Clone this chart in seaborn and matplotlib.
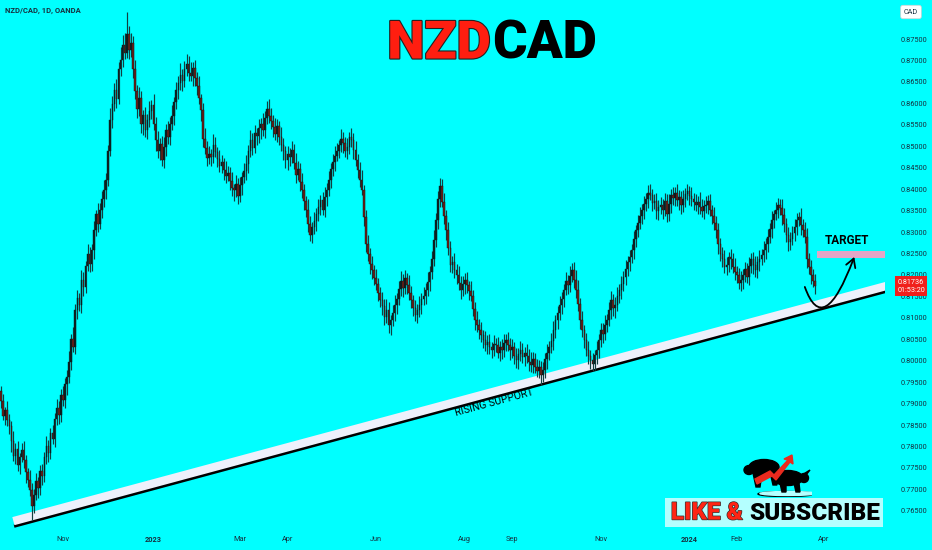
import numpy as np
import pandas as pd
import matplotlib
matplotlib.use("Agg")
import matplotlib.pyplot as plt
import matplotlib.patheffects as pe
from matplotlib.path import Path
from matplotlib.patches import FancyArrowPatch, Rectangle, Ellipse, Polygon
import seaborn as sns

# ---- data (daily NZD/CAD, prices in pips = price * 10000) ----
start_date = "2022-09-20"
first_open = 7930
close_pips = [
    7905, 7872, 7884, 7861, 7848, 7812, 7779, 7795, 7758, 7776,
    7792, 7768, 7741, 7722, 7698, 7662, 7688, 7719, 7703, 7742,
    7731, 7776, 7801, 7785, 7832, 7818, 7864, 7889, 7874, 7921,
    7908, 7945, 7962, 7998, 8051, 8032, 8118, 8146, 8131, 8189,
    8172, 8221, 8248, 8226, 8259, 8305, 8342, 8318, 8352, 8376,
    8398, 8421, 8489, 8561, 8598, 8632, 8611, 8679, 8702, 8737,
    8718, 8762, 8724, 8741, 8681, 8628, 8586, 8612, 8551, 8572,
    8539, 8561, 8583, 8597, 8552, 8514, 8489, 8506, 8468, 8498,
    8538, 8521, 8552, 8571, 8603, 8631, 8648, 8667, 8652, 8679,
    8692, 8671, 8664, 8682, 8658, 8641, 8612, 8584, 8516, 8497,
    8472, 8481, 8476, 8504, 8486, 8471, 8455, 8463, 8444, 8431,
    8437, 8419, 8402, 8397, 8411, 8385, 8409, 8428, 8442, 8458,
    8489, 8514, 8497, 8531, 8524, 8542, 8551, 8538, 8566, 8586,
    8571, 8559, 8544, 8529, 8547, 8521, 8502, 8489, 8467, 8482,
    8476, 8492, 8461, 8434, 8448, 8417, 8397, 8372, 8351, 8318,
    8294, 8312, 8325, 8341, 8358, 8374, 8352, 8381, 8399, 8421,
    8446, 8463, 8478, 8490, 8503, 8516, 8507, 8490, 8498, 8521,
    8514, 8492, 8469, 8445, 8421, 8399, 8334, 8271, 8248, 8226,
    8211, 8193, 8178, 8159, 8141, 8128, 8102, 8119, 8084, 8096,
    8112, 8131, 8143, 8167, 8187, 8169, 8192, 8176, 8158, 8141,
    8124, 8106, 8118, 8131, 8143, 8152, 8166, 8184, 8207, 8236,
    8281, 8327, 8376, 8408, 8371, 8338, 8304, 8262, 8224, 8231,
    8212, 8199, 8181, 8164, 8178, 8189, 8176, 8162, 8152, 8121,
    8094, 8083, 8071, 8059, 8048, 8036, 8044, 8031, 8024, 8039,
    8036, 8019, 8033, 8024, 8041, 8049, 8036, 8024, 8031, 8012,
    8001, 8016, 8026, 8008, 8019, 8012, 7998, 7989, 8004, 7985,
    7977, 7986, 7966, 7979, 8003, 8018, 8031, 8047, 8072, 8094,
    8111, 8129, 8143, 8166, 8187, 8176, 8198, 8211, 8189, 8164,
    8132, 8096, 8071, 8048, 8024, 8011, 8001, 7992, 8013, 8026,
    8049, 8071, 8062, 8084, 8096, 8118, 8141, 8122, 8131, 8152,
    8164, 8178, 8196, 8213, 8229, 8241, 8259, 8283, 8304, 8322,
    8337, 8351, 8366, 8376, 8392, 8387, 8368, 8372, 8349, 8358,
    8364, 8351, 8372, 8341, 8366, 8387, 8379, 8391, 8374, 8381,
    8362, 8377, 8388, 8395, 8383, 8376, 8369, 8362, 8371, 8358,
    8349, 8361, 8364, 8372, 8351, 8338, 8321, 8304, 8271, 8248,
    8236, 8219, 8224, 8241, 8236, 8218, 8207, 8199, 8182, 8189,
    8201, 8213, 8196, 8221, 8236, 8224, 8211, 8229, 8238, 8246,
    8258, 8271, 8289, 8306, 8327, 8341, 8352, 8364, 8355, 8339,
    8318, 8292, 8276, 8283, 8298, 8312, 8329, 8334, 8316, 8305,
    8289, 8236, 8218, 8201, 8186, 8174,
]
hi_wick = [
    12, 18, 9, 22, 15, 11, 25, 14, 19, 8,
    16, 21, 13, 10, 24, 17, 12, 20, 9, 15,
    18, 11, 23, 14, 10, 19, 13, 22, 16, 12,
    20, 14, 17, 25, 11, 28, 15, 19, 13, 22,
    17, 12, 24, 18, 14, 21, 10, 26, 15, 19,
    23, 16, 13, 28, 20, 15, 24, 18, 30, 22,
    27, 51, 19, 24, 16, 21, 14, 25, 18, 12,
    20, 15, 23, 11, 26, 17, 22, 13, 19, 24,
    14, 21, 17, 25, 12, 19, 16, 28, 13, 20,
    22, 18, 25, 14, 20, 16, 23, 11, 17, 26,
    15, 19, 12, 24, 18, 13, 21, 16, 10, 22,
    17, 14, 20, 11, 23, 15, 19, 12, 18, 21,
    13, 24, 16, 19, 12, 22, 14, 26, 17, 20,
    25, 18, 14, 21, 16, 12, 23, 17, 11, 19,
    15, 20, 13, 24, 18, 14, 21, 16, 12, 25,
    19, 11, 22, 15, 18, 13, 20, 24, 16, 21,
    14, 19, 23, 17, 12, 25, 18, 15, 21, 13,
    22, 16, 20, 14, 19, 24, 11, 17, 23, 15,
    18, 12, 21, 16, 13, 20, 15, 24, 17, 11,
    19, 23, 14, 18, 22, 16, 20, 13, 25, 17,
    12, 18, 15, 21, 14, 19, 16, 22, 13, 20,
    24, 17, 19, 18, 15, 21, 14, 20, 16, 12,
    19, 13, 22, 16, 20, 15, 18, 11, 23, 14,
    17, 21, 14, 19, 12, 22, 16, 18, 13, 20,
    15, 19, 12, 17, 21, 14, 18, 16, 20, 13,
    18, 14, 21, 16, 12, 19, 15, 22, 17, 13,
    20, 16, 13, 19, 15, 22, 14, 18, 21, 12,
    16, 21, 18, 14, 20, 13, 24, 17, 19, 22,
    25, 14, 19, 12, 17, 21, 15, 18, 13, 20,
    14, 18, 16, 22, 13, 19, 21, 15, 17, 20,
    16, 19, 13, 21, 15, 18, 14, 20, 12, 17,
    22, 15, 19, 14, 18, 21, 13, 17, 20, 16,
    18, 13, 20, 16, 22, 14, 19, 15, 21, 17,
    15, 20, 14, 18, 13, 21, 16, 19, 12, 22,
    19, 14, 21, 15, 17, 13, 20, 16, 18, 14,
    16, 21, 18, 13, 19, 15, 22, 14, 17, 20,
    13, 18, 15, 20, 14, 17, 21, 16, 19, 15,
    20, 15, 19, 14, 22, 11, 18, 16, 13, 21,
    17, 14, 20, 18, 15, 19, 16, 12, 21, 14,
    18, 20, 15, 17, 13, 16,
]
lo_wick = [
    15, 10, 21, 13, 18, 24, 12, 20, 16, 22,
    11, 19, 25, 17, 14, 33, 18, 12, 23, 15,
    20, 13, 17, 22, 15, 11, 19, 14, 21, 16,
    13, 18, 24, 15, 20, 12, 17, 21, 14, 19,
    22, 15, 11, 19, 16, 23, 14, 18, 12, 20,
    17, 21, 14, 12, 19, 16, 22, 13, 15, 18,
    14, 12, 20, 16, 23, 18, 21, 15, 19, 24,
    18, 22, 16, 20, 13, 24, 17, 21, 14, 18,
    21, 16, 19, 13, 22, 15, 20, 17, 24, 14,
    16, 20, 13, 23, 17, 21, 14, 25, 18, 15,
    19, 14, 22, 16, 12, 20, 15, 18, 23, 17,
    13, 21, 17, 24, 15, 19, 16, 22, 14, 20,
    20, 15, 18, 12, 21, 16, 24, 14, 19, 13,
    16, 19, 23, 15, 20, 17, 13, 21, 18, 22,
    21, 16, 14, 19, 13, 22, 17, 20, 15, 18,
    14, 20, 17, 22, 16, 19, 13, 18, 21, 15,
    19, 15, 21, 13, 18, 16, 22, 14, 20, 17,
    16, 22, 14, 19, 17, 13, 21, 18, 15, 24,
    21, 17, 13, 20, 16, 22, 18, 14, 19, 25,
    15, 19, 22, 14, 17, 20, 13, 21, 16, 18,
    20, 14, 18, 16, 22, 13, 19, 15, 21, 17,
    14, 16, 21, 18, 13, 19, 22, 15, 17, 20,
    18, 21, 15, 19, 14, 22, 17, 20, 13, 16,
    22, 17, 20, 15, 19, 13, 21, 16, 18, 14,
    16, 13, 19, 21, 15, 18, 14, 22, 17, 20,
    19, 21, 16, 14, 20, 17, 22, 15, 18, 13,
    15, 18, 22, 16, 19, 23, 17, 14, 21, 18,
    20, 15, 19, 17, 13, 21, 16, 14, 20, 18,
    17, 22, 15, 19, 14, 18, 21, 16, 13, 20,
    19, 16, 20, 14, 18, 15, 21, 17, 22, 14,
    18, 21, 16, 19, 15, 20, 13, 22, 17, 16,
    14, 18, 21, 16, 20, 13, 19, 15, 18, 21,
    17, 20, 14, 18, 15, 21, 16, 19, 13, 22,
    20, 15, 19, 13, 21, 16, 18, 14, 20, 17,
    15, 19, 17, 21, 14, 20, 16, 18, 22, 15,
    18, 14, 20, 16, 21, 13, 19, 17, 15, 20,
    21, 17, 14, 19, 16, 22, 15, 18, 20, 14,
    16, 20, 18, 15, 21, 17, 13, 19, 16, 22,
    19, 15, 21, 17, 14, 20, 18, 16, 22, 17,
    14, 19, 16, 21, 15, 18,
]

last_price = 0.81736
countdown = "01:53:20"

month_labels = ["Nov", "2023", "Mar", "Apr", "Jun", "Aug", "Sep", "Nov", "2024", "Feb", "Apr"]
month_dates = ["2022-11-01", "2023-01-01", "2023-03-01", "2023-04-01", "2023-06-01", "2023-08-01",
               "2023-09-01", "2023-11-01", "2024-01-01", "2024-02-01", "2024-04-01"]

# rising support trendline anchors (date, price)
support_dates = ["2022-09-28", "2024-05-20"]
support_prices = [0.7626, 0.8180]

# target zone (price range) and projected path of the arrow
target_zone = (0.8240, 0.8256)
target_start = "2024-03-27"
arrow_dates = ["2024-03-19", "2024-03-30", "2024-04-22"]
arrow_prices = [0.8172, 0.8050, 0.8242]

# ---- build OHLC ----
closes = np.array(close_pips) / 10000
opens = np.concatenate([[first_open], close_pips[:-1]]) / 10000
highs = np.maximum(opens, closes) + np.array(hi_wick) / 10000
lows = np.minimum(opens, closes) - np.array(lo_wick) / 10000
df = pd.DataFrame({"bar": np.arange(len(closes)), "open": opens, "high": highs,
                   "low": lows, "close": closes})
df["up"] = df["close"] >= df["open"]


def bar_of(d):
    return np.busday_count(start_date, d)


BG = "#00ffff"
TXT = "#16303f"
sns.set_theme(style="white", rc={"axes.facecolor": BG, "figure.facecolor": BG})
plt.rcParams["font.family"] = ["Roboto", "DejaVu Sans"]

fig = plt.figure(figsize=(9.32, 5.5), dpi=100)
ax = fig.add_axes([0, 22 / 550, 885 / 932, 528 / 550])
ax.set_xlim(-0.5, 428.9)
ax.set_ylim(0.7610, 0.8841)
for s in ax.spines.values():
    s.set_visible(False)

# support line: white band with black edge beneath
sx = [bar_of(d) for d in support_dates]
sns.lineplot(x=sx, y=support_prices, ax=ax, color="#eef0fb", lw=6, zorder=2,
             solid_capstyle="butt",
             path_effects=[pe.Stroke(offset=(0.5, -3.6), linewidth=2.4, foreground="black"),
                           pe.Normal()])
ax.text(239.5, 0.7902, "RISING SUPPORT", rotation=15.2, rotation_mode="anchor",
        ha="center", va="center", fontsize=7.5, color="black", zorder=4)

# candles
up = df[df["up"]]
dn = df[~df["up"]]
ax.vlines(df["bar"], df["low"], df["high"], color="#123f40", lw=0.85, zorder=3)
ax.bar(up["bar"], (up["close"] - up["open"]).clip(lower=0.00006), bottom=up["open"],
       width=0.75, color="#0b1f20", edgecolor="#0b1f20", lw=0.3, zorder=3)
ax.bar(dn["bar"], (dn["open"] - dn["close"]).clip(lower=0.00006), bottom=dn["close"],
       width=0.75, color="#6a2219", edgecolor="#1a1010", lw=0.3, zorder=3)

# target zone
t0 = bar_of(target_start)
ax.add_patch(Rectangle((t0, target_zone[0]), 440 - t0, target_zone[1] - target_zone[0],
                       color="#e3a6c6", lw=0, zorder=2))
ax.text(t0 + 14.5, 0.8281, "TARGET", ha="center", va="center", fontsize=8.5,
        fontweight="bold", color="black")

# curved projection arrow
ap = [(bar_of(d), p) for d, p in zip(arrow_dates, arrow_prices)]
path = Path(ap, [Path.MOVETO, Path.CURVE3, Path.CURVE3])
ax.add_patch(FancyArrowPatch(path=path, arrowstyle="->,head_length=6,head_width=3.5",
                             color="black", lw=1.3, zorder=5))

# axes ticks
ax.yaxis.tick_right()
yt = np.arange(0.765, 0.8751, 0.005)
ax.set_yticks(yt)
ax.set_yticklabels([f"{v:.5f}" for v in yt])
ax.set_xticks([bar_of(d) for d in month_dates])
ax.set_xticklabels(month_labels)
ax.tick_params(axis="y", length=0, pad=11, labelsize=5.3, labelcolor=TXT)
ax.tick_params(axis="x", length=0, pad=6, labelsize=5.3, labelcolor=TXT)
for lab in ax.get_xticklabels():
    if lab.get_text() in ("2023", "2024"):
        lab.set_fontweight("bold")
ax.grid(False)

# price label on the scale
ax.annotate(f"{last_price:.5f}\n{countdown}", xy=(1.0294, last_price),
            xycoords=("axes fraction", "data"), ha="center", va="center",
            fontsize=5.2, color="white", linespacing=1.15, annotation_clip=False,
            bbox=dict(boxstyle="square,pad=0.35", fc="#f0201c", ec="none"))

# header texts
fig.text(911 / 932, 1 - 12 / 550, "CAD", ha="center", va="center", fontsize=5.2, color=TXT,
         bbox=dict(boxstyle="round,pad=0.45,rounding_size=0.3", fc="white", ec="#d0d0d0", lw=0.5))
fig.text(5 / 932, 1 - 11 / 550, "NZD/CAD, 1D, OANDA", ha="left", va="center", fontsize=5.5,
         fontweight="bold", color=TXT)
outline = [pe.withStroke(linewidth=1.6, foreground="#222222")]
fig.text(491 / 932, 1 - 44 / 550, "NZD", ha="right", va="center", fontsize=38,
         fontweight=900, color="#ff1e10", path_effects=outline)
fig.text(492 / 932, 1 - 44 / 550, "CAD", ha="left", va="center", fontsize=38,
         fontweight=900, color="black")

# like & subscribe banner
fig.patches.append(Rectangle((665 / 932, 1 - 527 / 550), 218 / 932, 29 / 550,
                             transform=fig.transFigure, color="#b4ffff", lw=0, zorder=0))
fig.text(743 / 932, 1 - 513 / 550, "LIKE &", ha="right", va="center", fontsize=17.5,
         fontweight=900, color="#ff2414", path_effects=[pe.withStroke(linewidth=1, foreground="#333")])
fig.text(749 / 932, 1 - 513 / 550, "SUBSCRIBE", ha="left", va="center", fontsize=17.5,
         fontweight=900, color="black")

# small bull & bear logo
lg = fig.add_axes([740 / 932, 1 - 497 / 550, 72 / 932, 45 / 550])
lg.set_xlim(0, 72)
lg.set_ylim(0, 45)
lg.axis("off")
lg.add_patch(Ellipse((46, 3), 56, 5, color="black"))
lg.add_patch(Ellipse((48, 3.5), 56, 4, color="#b4ffff"))
lg.add_patch(Ellipse((24, 30), 30, 15, color="black"))
lg.add_patch(Ellipse((9, 27), 10, 9, color="black"))
lg.add_patch(Polygon([(13, 24), (16, 10), (20, 10), (22, 24)], color="black"))
lg.add_patch(Polygon([(30, 25), (33, 12), (37, 12), (36, 25)], color="black"))
lg.add_patch(Ellipse((48, 19), 30, 15, color="black"))
lg.add_patch(Ellipse((64, 19), 9, 9, color="black"))
lg.add_patch(Polygon([(62, 22), (70, 27), (66, 22)], color="black"))
lg.add_patch(Polygon([(40, 14), (42, 5), (46, 5), (46, 14)], color="black"))
lg.add_patch(Polygon([(54, 14), (56, 5), (60, 5), (59, 14)], color="black"))
lg.add_patch(Polygon([(15, 18), (30, 26), (34, 22), (48, 37), (44, 38), (52, 42), (53, 33),
                      (50, 35), (36, 17), (32, 21), (17, 13)], color="#ea2a1e"))

fig.savefig("out.png", dpi=100, facecolor=BG)
